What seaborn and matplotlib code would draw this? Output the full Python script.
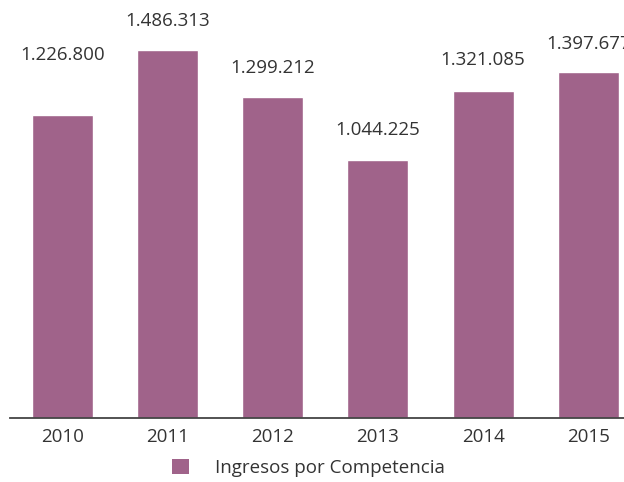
import matplotlib
matplotlib.use("Agg")
import matplotlib.pyplot as plt
import seaborn as sns
import pandas as pd
from matplotlib.patches import Patch

years = ["2010", "2011", "2012", "2013", "2014", "2015"]
values = [1226800, 1486313, 1299212, 1044225, 1321085, 1397677]
labels = ["1.226.800", "1.486.313", "1.299.212", "1.044.225", "1.321.085", "1.397.677"]
series_name = "Ingresos por Competencia"

sns.set_theme(style="white")
plt.rcParams["font.family"] = ["Open Sans", "DejaVu Sans"]

BAR = "#A0638A"
TXT = "#333333"
FS = 13.5

df = pd.DataFrame({"year": years, "value": values})

fig = plt.figure(figsize=(6.24, 4.82), dpi=100)
W, H = 624, 482
ax = fig.add_axes([10 / W, 1 - 418 / H, 614 / W, 418 / H])
sns.barplot(data=df, x="year", y="value", color=BAR, width=0.58, ax=ax, saturation=1)

ax.set_xlim(-0.5, 5.34)
ax.set_ylim(0, 1690000)
for s in ["top", "right", "left"]:
    ax.spines[s].set_visible(False)
ax.spines["bottom"].set_color("#444444")
ax.spines["bottom"].set_linewidth(1.3)
ax.set_yticks([])
ax.set_xlabel("")
ax.set_ylabel("")
ax.tick_params(axis="x", length=0, pad=7, labelsize=FS, labelcolor=TXT)

offsets = [60, 29, 29, 30, 31, 28]
for i, (v, lab) in enumerate(zip(values, labels)):
    ax.annotate(lab, (i, v), xytext=(0, offsets[i] * 0.72), textcoords="offset points",
                ha="center", va="center", fontsize=FS, color=TXT, annotation_clip=False)

handle = Patch(facecolor=BAR, edgecolor="none", label=series_name)
fig.legend(handles=[handle], loc="center", bbox_to_anchor=(0.494, 1 - 468 / H),
           frameon=False, fontsize=FS, handlelength=0.9, handleheight=0.9,
           handletextpad=1.4, labelcolor=TXT)

fig.savefig("out.png", dpi=100)
